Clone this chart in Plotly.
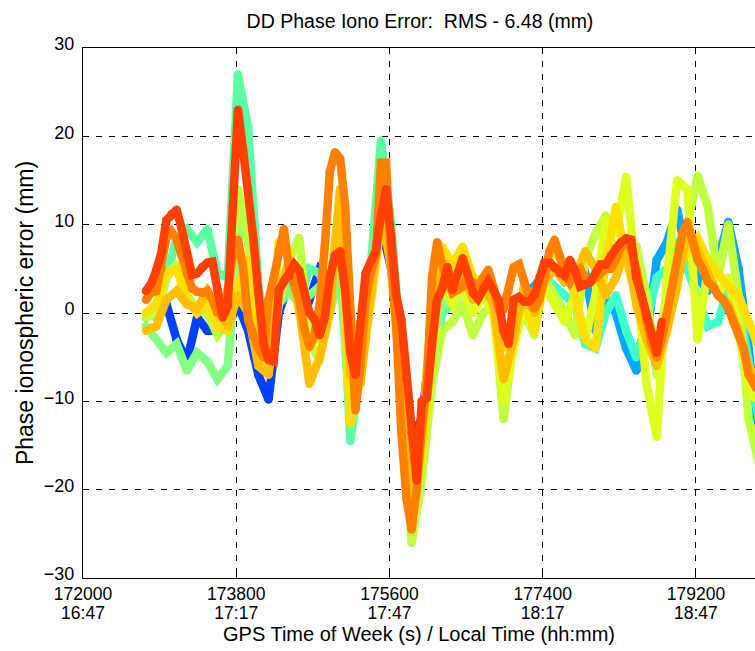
import numpy as np
import plotly.graph_objects as go

# ---------------- data ----------------
T0 = 172740          # first epoch shown (GPS seconds of week)
STEP_FINE = 60       # s, sampling of the two dominant series
STEP_COARSE = 120    # s, sampling of the remaining series

x_tick_vals = [172000, 173800, 175600, 177400, 179200]
x_tick_gps = ["172000", "173800", "175600", "177400", "179200"]
x_tick_local = ["16:47", "17:17", "17:47", "18:17", "18:47"]
y_tick_vals = [-30, -20, -10, 0, 10, 20, 30]

red_vals = [2.5, 3.3, 4.8, 6.8, 10.5, 11.2, 11.7, 9.5, 6.5, 4.3,
            4.5, 5.2, 5.7, 5.8, 2.5, -0.5, 0.8, 12, 23, 18.5,
            14, 8.5, 2.3, -3.5, -5.3, -5.5, 2.6, 3.5, 4.2, 5.5,
            4.8, 2.2, 0, -0.7, -2.5, -0.5, 4, 6.5, 7, 2.5,
            -4.5, -7, -1, 4.5, 5.8, 7, 11, 14, 8.5, 2,
            -0.8, -7.5, -13.5, -19, -10, -9.6, -3.5, 1.5, 2.8, 5.2,
            2.6, 4.5, 6.2, 4.4, 2.3, 1.6, 2.8, 3.6, 2.6, 1.5,
            -2, -3.5, 1.5, 1.8, 1.3, 1.3, 2, 4, 5.7, 5.7,
            5.1, 4.5, 4.2, 6, 4.8, 3, 3.2, 3.5, 4.5, 5.5,
            5.5, 6.5, 7.3, 8, 8.4, 8.3, 4, 2, -0.5, -2.5,
            -4.5, -1]

orange_vals = [1.5, 2.3, 2.5, 5, 8.5, 9.2, 8.3, 6.5, 4.5, 2.8,
               2.4, 2.3, 2.5, 1.5, 0, 0.8, 2.5, 6.5, 8.3, 5.2,
               -0.8, -2.7, -4, -5, 1.5, 4, 7, 9.5, 5, 3.5,
               1.5, -1.8, -3.8, -2.5, 1, 7.5, 16, 18.2, 17.5, 12,
               -0.5, -11, -6, 1.5, 4.5, 6.5, 17, 17, 6, -1.5,
               -13.5, -21, -24.5, -20, -13, -8, 4, 8, 5.5, 3.5,
               2.3, 2.6, 3, 4, 3.5, 2.8, 4, 4.9, 3, 0.5,
               0.5, 2.5, 5.2, 5.5, 3.5, 1.8, 0.5, 1.5, 4, 7,
               8.3, 6.3, 4.5, 3.5, 4.5, 5, 4, 3.5, 4, 4.5,
               5, 5, 6, 7.5, 8.5, 7, 5, 2, -1, -3.5,
               -5, -3, 0, 3, 6, 9, 10.3, 8.5, 6, 5,
               3.5, 3, 2, 1.5, 0.5, -1, -2.5, -4, -7, -8,
               -7]

gold_vals = [-2, -1.5, 1.5, 2.5, 1, 0.5, 2.5, 0.5, -1.5, 2,
             0, -6, -7, 2, 6, 0.5, -8, -5, 0, 14,
             -7, -8, 2, 12, 5, -10, -22, -14, 1, 4.5,
             2.5, 4.5, 1.5, 3, 1, -7.5, -3, 3, 0, 3.5,
             5, 3.5, 4, 7, 5, 2, 4, 7.5, 1, -3,
             -6, -2, 3, 9.5, 7, 4, 2, 1, -2, -6,
             -8]

yellow_vals = [0, 1, 4.5, 5, 1.5, 0, 1, -1.5, -2, 3,
               6, -5, -6, 8, 7, 0, -4, -2, 3, 13,
               -12.5, -6, 1, 10, 7, -9, -21, -16, -3, 7.5,
               5.5, 7.5, 4, 3.5, 2, -4, -1, 1.5, -2, 4,
               8, 5, 2, -3, -4, 6, 12, 6, 2, 0,
               -4, 0, 5, 7, 8.5, 6, 4.5, 3, 2, -1,
               -4]

yellowgreen_start = 176100
yellowgreen_vals = [2, 3, 1, 3, 0, 2, 0, -10, -4, 1,
                    0, 3, 1, -1, 2, -3, 2, 10.5, 9, 15.4,
                    4, -8, -14, 4, 15, 14, -3, 5, 2, 4,
                    -2, -9, -10]

lime_vals = [-0.5, 0, 4, 5.5, 2, 0.5, 0, -2.5, -1, 14,
             8, -3, -6, 1, 6, 8.5, -3, -5.5, 2, 14,
             -10, -7, 2, 12, 8, -8, -26, -19, -8, -2,
             -1, 1, -2.5, 0, 1, -12, -3, 0, -2.5, 4,
             2, 0, -2.5, 6, 9, 11, 6, 8, 7.5, 2,
             -7, 3, 6, 10, 15.5, 12, 4, 10, 2, -12,
             -17]

lightgreen_vals = [-1.5, -3, -4.5, -3.5, -6.5, -4.5, -5.5, -7.5, -6, 8,
                   12, 0, -6, 1, 2.5, 1, 2, 3, 0, 5,
                   -12, -5, 3, 14, 8, -8, -22, -17, -4, 1,
                   2]

springgreen_vals = [0, -0.5, 4, 8.5, 9.5, 8, 9.5, 4.5, 4, 27,
                    21, 3, -4, 3.5, 3, 1.5, 5, 4.5, 1, 10,
                    -14.5, -6, 5, 19.5, 10, -6, -20, -15, -5, 0,
                    1]

aqua_start = 177060
aqua_vals = [0, 1, 2.5, 4, 3, 2, 1, -3.5, -4, 0,
             2, -2, -5, -1, 4, 5, 8, 5, 2, -1.5,
             -1, 3, 1, -6, -12]

lightblue_start = 177060
lightblue_vals = [1, 2, 3, 4.5, 5, 3.5, 4, 4.5, -2, 1.5,
                  0, -4, -6.5, -3, 6, 8, 11.7, 6, 4, 2.5,
                  6, 10.3, 5, -4, -15]

blue_vals = [-0.5, 0.5, 1, -3, -5.5, -0.5, -2, -2, -1.5, 1,
             -2, -7, -9.8, 0, 3.5, 2, 1.5, 5, 4, 8,
             -6, -4, 4, 10, 5, -5, -14, -12, -2, 2,
             1]

# (values, start time, step, colour) in drawing order (bottom -> top)
series = [
    (blue_vals, T0, STEP_COARSE, "#0040ff"),
    (lightblue_vals, lightblue_start, STEP_COARSE, "#00a8ff"),
    (aqua_vals, aqua_start, STEP_COARSE, "#40ffc8"),
    (springgreen_vals, T0, STEP_COARSE, "#5cffa3"),
    (lightgreen_vals, T0, STEP_COARSE, "#84ff84"),
    (lime_vals, T0, STEP_COARSE, "#bfff40"),
    (yellowgreen_vals, yellowgreen_start, STEP_COARSE, "#dfff20"),
    (yellow_vals, T0, STEP_COARSE, "#ffdf00"),
    (gold_vals, T0, STEP_COARSE, "#ffbf00"),
    (orange_vals, T0, STEP_FINE, "#ff8000"),
    (red_vals, T0, STEP_FINE, "#ff4000"),
]

FONT = "Liberation Sans, Arial, Helvetica, sans-serif"
LW = 8.5

fig = go.Figure()
for vals, start, step, col in series:
    t = start + step * np.arange(len(vals))
    fig.add_trace(go.Scatter(x=t, y=vals, mode="lines+markers",
                             line=dict(color=col, width=LW),
                             marker=dict(color=col, size=LW, line=dict(width=0)),
                             showlegend=False, hoverinfo="skip"))

# carrier trace for the second (local-time) label row
fig.add_trace(go.Scatter(x=[x_tick_vals[0]], y=[None], xaxis="x2",
                         mode="lines", showlegend=False, hoverinfo="skip"))

XR = [172000, 179894]

fig.update_layout(
    width=755, height=651,
    margin=dict(l=83, r=0, t=48, b=73),
    paper_bgcolor="white", plot_bgcolor="white",
    font=dict(family=FONT, color="black", size=18),
    title=dict(text="DD Phase Iono Error:  RMS - 6.48 (mm)",
               x=420 / 755, xref="container", xanchor="center",
               y=1 - 21 / 651, yref="container", yanchor="middle",
               font=dict(size=19.5, family=FONT)),
    xaxis=dict(range=XR, tickvals=x_tick_vals, ticktext=x_tick_gps,
               ticks="inside", ticklen=6, tickcolor="black", tickwidth=1,
               showline=True, linecolor="black", linewidth=1, mirror="ticks",
               showgrid=True, gridcolor="black", gridwidth=1, griddash="6px,7px",
               zeroline=False, tickfont=dict(size=17.5, family=FONT),
               ticklabelstandoff=0),
    xaxis2=dict(range=XR, overlaying="x", anchor="y", side="bottom",
                tickvals=x_tick_vals, ticktext=x_tick_local,
                ticks="", showline=False, showgrid=False, zeroline=False,
                tickfont=dict(size=17.5, family=FONT), ticklabelstandoff=22,
                title=dict(text="GPS Time of Week (s) / Local Time (hh:mm)",
                           font=dict(size=20, family=FONT), standoff=2)),
    yaxis=dict(range=[-30, 30], tickvals=y_tick_vals,
               ticks="inside", ticklen=6, tickcolor="black", tickwidth=1,
               showline=True, linecolor="black", linewidth=1, mirror=False,
               showgrid=True, gridcolor="black", gridwidth=1, griddash="6px,7px",
               zeroline=False, tickfont=dict(size=18, family=FONT),
               ticklabelstandoff=4, ticklabelshift=-4,
               title=dict(text="Phase ionospheric error (mm)",
                          font=dict(size=23, family=FONT), standoff=3)),
)

fig.write_html("out.html")
